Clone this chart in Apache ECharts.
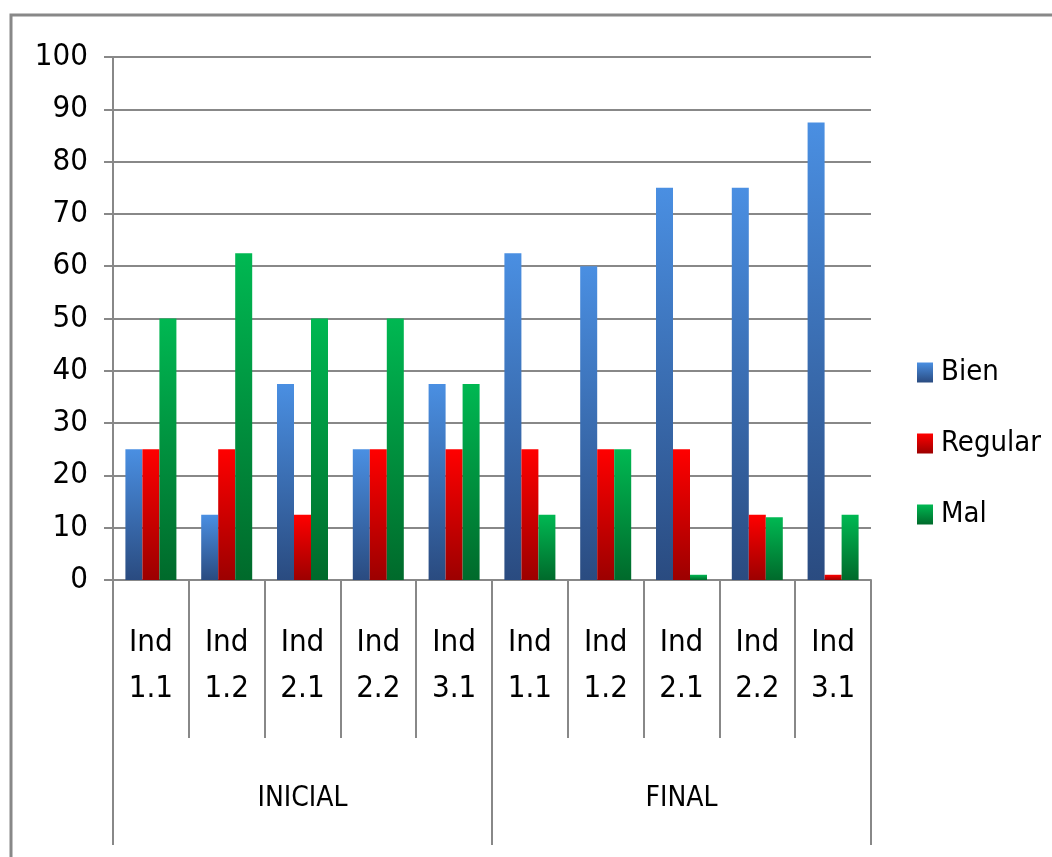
<!DOCTYPE html>
<html>
<head>
<meta charset="utf-8">
<script src="https://cdn.jsdelivr.net/npm/echarts@6/dist/echarts.min.js"></script>
<style>
html,body{margin:0;padding:0;background:#fff;}
#chart{width:1052px;height:857px;}
</style>
</head>
<body>
<div id="chart"></div>
<script>
var categories = ["Ind\n1.1","Ind\n1.2","Ind\n2.1","Ind\n2.2","Ind\n3.1","Ind\n1.1","Ind\n1.2","Ind\n2.1","Ind\n2.2","Ind\n3.1"];
var groups = ["INICIAL","FINAL"];
var bien = [25, 12.5, 37.5, 25, 37.5, 62.5, 60, 75, 75, 87.5];
var regular = [25, 25, 12.5, 25, 25, 25, 25, 25, 12.5, 1];
var mal = [50, 62.5, 50, 50, 37.5, 12.5, 25, 1, 12, 12.5];
var yTicks = [0,10,20,30,40,50,60,70,80,90,100];

var FONT = "'DejaVu Sans Condensed','Liberation Sans Narrow','Open Sans',sans-serif";
function grad(top, bottom){
  return new echarts.graphic.LinearGradient(0,0,0,1,[{offset:0,color:top},{offset:1,color:bottom}]);
}
var chart = echarts.init(document.getElementById('chart'));
chart.setOption({
  animation:false,
  backgroundColor:'#fff',
  graphic:[{type:'rect',shape:{x:11,y:15,width:1100,height:900},style:{fill:'none',stroke:'#888',lineWidth:3},silent:true}],
  grid:{left:113,right:181,top:57,bottom:277},
  legend:{
    orient:'vertical',left:912,top:353,itemWidth:16,itemHeight:20,itemGap:42,icon:'rect',
    textStyle:{fontFamily:FONT,fontSize:29,fontWeight:500,color:'#000',padding:[0,0,0,3]},
    data:['Bien','Regular','Mal']
  },
  xAxis:[{
    type:'category',data:categories,position:'bottom',
    axisLine:{show:true,lineStyle:{color:'#888',width:2}},
    axisTick:{show:true,length:158,interval:0,lineStyle:{color:'#888',width:2}},
    axisLabel:{interval:0,margin:40,fontFamily:FONT,fontSize:31,lineHeight:46,color:'#000'}
  },{
    type:'category',data:groups,position:'bottom',
    axisLine:{show:false},
    axisTick:{show:true,length:265,interval:0,lineStyle:{color:'#888',width:2}},
    axisLabel:{interval:0,margin:205,fontFamily:FONT,fontSize:28,color:'#000'}
  }],
  yAxis:{
    type:'value',min:yTicks[0],max:yTicks[yTicks.length-1],interval:10,
    axisLine:{show:true,lineStyle:{color:'#888',width:2}},
    axisTick:{show:true,length:9,lineStyle:{color:'#888',width:2}},
    splitLine:{show:true,lineStyle:{color:'#888',width:2}},
    axisLabel:{margin:25,fontFamily:FONT,fontSize:31,color:'#000'}
  },
  series:[
    {name:'Bien',type:'bar',data:bien,barWidth:17,barGap:'0%',xAxisIndex:0,
     itemStyle:{color:grad('#4a8fe2','#2a4b80')}},
    {name:'Regular',type:'bar',data:regular,barWidth:17,barGap:'0%',xAxisIndex:0,
     itemStyle:{color:grad('#ff0000','#9c0000')}},
    {name:'Mal',type:'bar',data:mal,barWidth:17,barGap:'0%',xAxisIndex:0,
     itemStyle:{color:grad('#00b852','#006a2b')}}
  ]
});
</script>
</body>
</html>
